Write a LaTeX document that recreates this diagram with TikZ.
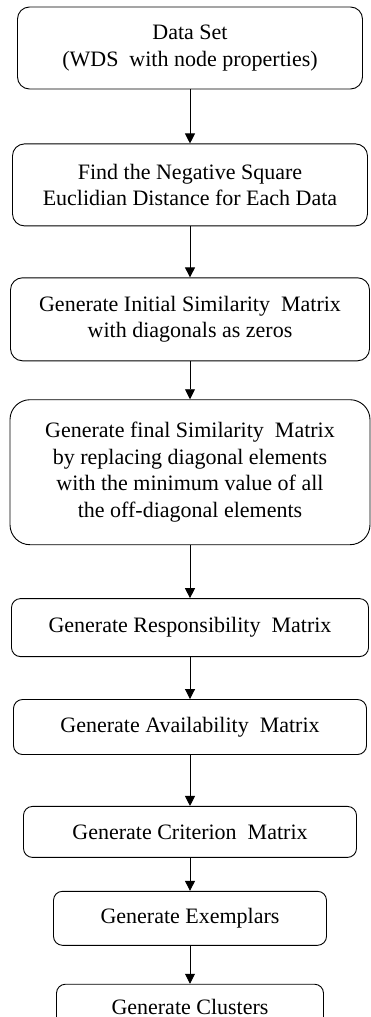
\documentclass[tikz,border=0pt]{standalone}
\usepackage{fontspec}
\setmainfont{Liberation Serif}
\usetikzlibrary{arrows.meta, positioning}

\begin{document}
\begin{tikzpicture}[
  x=1pt, y=1pt,
  box/.style = {rectangle, rounded corners=#1, draw=black, line width=0.9pt,
                align=center, inner sep=2pt,
                font=\fontsize{22}{26.7}\selectfont},
  box/.default = 12pt,
  arr/.style = {-{Triangle[length=10pt,width=10pt]}, line width=0.9pt},
]
\useasboundingbox (0,0) rectangle (370,-1017);
% Boxes, top to bottom
\node[box, minimum width=345pt, minimum height=82pt] (data) at (190,-48)
  {Data Set\\(WDS\ \ with node properties)};
\node[box, minimum width=355pt, minimum height=82pt, below=54pt of data] (dist)
  {Find the Negative Square\\Euclidian Distance for Each Data};
\node[box, minimum width=359pt, minimum height=83pt, below=51pt of dist] (simi)
  {Generate Initial Similarity\ \ Matrix\\with diagonals as zeros};
\node[box=20pt, minimum width=360pt, minimum height=145pt, below=38pt of simi] (simf)
  {Generate final Similarity\ \ Matrix\\by replacing diagonal elements\\with the minimum value of all\\the off-diagonal elements};
\node[box=9pt, minimum width=357pt, minimum height=58pt, below=53pt of simf] (resp)
  {Generate Responsibility\ \ Matrix};
\node[box=9pt, minimum width=353pt, minimum height=55pt, below=42pt of resp] (avail)
  {Generate Availability\ \ Matrix};
\node[box=9pt, minimum width=333pt, minimum height=51pt, below=51pt of avail] (crit)
  {Generate Criterion\ \ Matrix};
\node[box=9pt, minimum width=273pt, minimum height=54pt, below=33pt of crit] (exem)
  {Generate Exemplars};
\node[box=9pt, minimum width=267pt, minimum height=46pt, below=38pt of exem] (clus)
  {Generate Clusters};
% Arrows
\draw[arr] (data) -- (dist);
\draw[arr] (dist) -- (simi);
\draw[arr] (simi) -- (simf);
\draw[arr] (simf) -- (resp);
\draw[arr] (resp) -- (avail);
\draw[arr] (avail) -- (crit);
\draw[arr] (crit) -- (exem);
\draw[arr] (exem) -- (clus);
\end{tikzpicture}
\end{document}
